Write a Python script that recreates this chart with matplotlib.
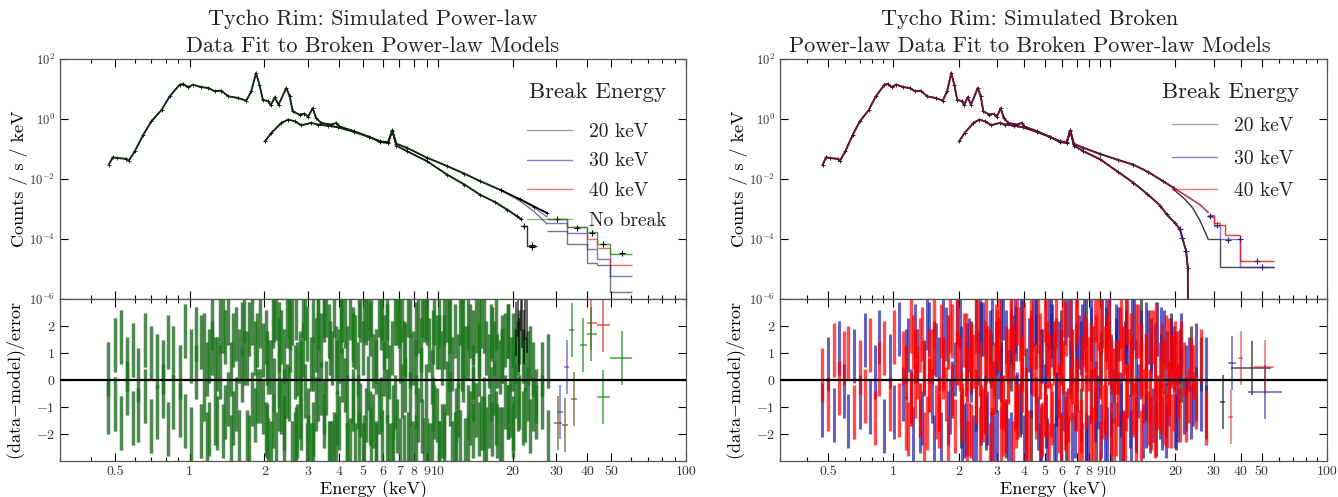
import numpy as np
import matplotlib
matplotlib.use("Agg")
import matplotlib.pyplot as plt
from matplotlib.lines import Line2D
from matplotlib.ticker import FixedLocator, FixedFormatter, NullFormatter, NullLocator

plt.rcParams["font.family"] = "cmr10"
plt.rcParams["mathtext.fontset"] = "cm"
plt.rcParams["axes.formatter.use_mathtext"] = True

# ---------------- spectra (keV, counts/s/keV) ----------------
# soft detector, identical in both panels below ~7.5 keV
soft_E = [0.472, 0.49, 0.51, 0.556, 0.568, 0.60, 0.65, 0.70, 0.77, 0.83, 0.91, 0.94,
          0.985, 1.03, 1.11, 1.19, 1.26, 1.34, 1.43, 1.57, 1.69, 1.77, 1.85, 1.91,
          1.97, 2.07, 2.12, 2.20, 2.28, 2.45, 2.53, 2.60, 2.77, 2.90, 3.00, 3.13,
          3.23, 3.39, 3.71, 3.90, 4.00, 4.60, 5.30, 5.87, 6.30, 6.55, 6.80, 7.50]
soft_rate = [0.030, 0.053, 0.050, 0.047, 0.041, 0.083, 0.30, 0.83, 2.0, 5.7, 13.9, 14.7,
             11.4, 14.0, 11.6, 10.8, 8.4, 8.8, 5.7, 5.0, 4.1, 8.4, 34.0, 14.0,
             4.4, 3.9, 2.85, 5.3, 3.0, 10.8, 5.7, 1.8, 1.4, 1.5, 1.2, 2.3,
             1.07, 0.74, 0.65, 0.74, 0.57, 0.39, 0.25, 0.17, 0.16, 0.40, 0.13, 0.085]
# hard detector, identical in both panels below ~7.5 keV
hard_E = [2.01, 2.13, 2.34, 2.49, 2.65, 2.82, 3.09, 3.28, 3.60, 3.95, 4.60, 5.30,
          5.87, 6.30, 6.55, 6.80, 7.50]
hard_rate = [0.18, 0.34, 0.74, 0.95, 0.84, 0.62, 0.74, 0.65, 0.60, 0.53, 0.37, 0.25,
             0.18, 0.17, 0.42, 0.15, 0.11]

# left panel (power-law data)
soft_tail_E_l = [9.0, 10.9, 12.8, 14.8, 17.0, 19.0, 20.8, 21.7]
soft_tail_l = [0.040, 0.014, 0.0065, 0.0030, 0.0017, 9.6e-4, 5.8e-4, 4.5e-4]
soft_step_edges_l = [21.7, 22.8, 25.0]
soft_step_l = [2.7e-4, 5.7e-5]
hard_tail_E_l = [9.0, 10.9, 12.8, 14.8, 18.0]
hard_tail_l = [0.052, 0.027, 0.015, 0.0085, 0.0042]
model_E_l = [18.0, 21.5, 24.5, 27.5]
model_nb_l = [4.2e-3, 2.1e-3, 1.2e-3, 7.4e-4]
model_40_l = [4.2e-3, 2.1e-3, 1.2e-3, 7.4e-4]
model_30_l = [4.2e-3, 2.0e-3, 1.1e-3, 5.5e-4]
model_20_l = [4.2e-3, 1.8e-3, 8.0e-4, 3.2e-4]
step_edges_l = [27.5, 33.0, 39.8, 43.7, 49.5, 60.4]
step_nb_l = [4.5e-4, 2.5e-4, 1.66e-4, 6.6e-5, 3.2e-5]
step_40_l = [4.5e-4, 2.5e-4, 1.0e-4, 5.0e-5, 1.35e-5]
step_30_l = [3.5e-4, 1.6e-4, 4.5e-5, 2.1e-5, 5.8e-6]
step_20_l = [1.8e-4, 7.0e-5, 1.6e-5, 1.4e-5, 1.7e-6]
data_hi_E_l = [22.2, 23.9, 23.9, 30.2, 36.4, 41.7, 46.4, 55.0]
data_hi_l = [2.7e-4, 5.5e-5, 6.3e-5, 4.5e-4, 2.4e-4, 1.6e-4, 6.6e-5, 3.3e-5]

# right panel (broken power-law data)
soft_tail_E_r = [9.0, 10.9, 12.8, 14.8, 17.0, 18.2, 20.0, 21.0, 21.5, 22.4, 22.8, 22.9]
soft_tail_r = [0.045, 0.017, 0.0075, 0.0032, 0.0013, 6.6e-4, 3.3e-4, 2.1e-4, 1.1e-4,
               4.0e-5, 1.1e-5, 1e-9]
hard_tail_E_r = [9.0, 10.9, 12.8, 15.0, 17.5, 19.6]
hard_tail_r = [0.068, 0.043, 0.030, 0.017, 0.0085, 0.0051]
model_E_r = [19.6, 22.0, 24.0, 26.0, 28.3]
model_40_r = [5.1e-3, 3.0e-3, 2.0e-3, 1.4e-3, 8.0e-4]
model_30_r = [5.1e-3, 3.0e-3, 2.0e-3, 1.35e-3, 7.5e-4]
model_20_r = [4.5e-3, 2.2e-3, 1.1e-3, 4.0e-4, 1.0e-4]
step_edges_r = [28.3, 30.0, 32.1, 33.9, 39.7, 57.0]
step_40_r = [6.3e-4, 3.5e-4, 3.0e-4, 1.4e-4, 1.8e-5]
step_30_r = [5.6e-4, 2.8e-4, 1.0e-4, 1.0e-4, 1.2e-5]
step_20_r = [1.0e-4, 1.0e-4, 1.2e-5, 1.2e-5, 1.2e-5]
data_hi_E_r = [21.0, 21.5, 22.4, 29.0, 31.0, 35.0, 39.5, 47.5, 50.0]
data_hi_r = [2.1e-4, 1.1e-4, 4.0e-5, 6.0e-4, 3.0e-4, 9.3e-5, 1.0e-4, 1.9e-5, 1.2e-5]

# ---------------- residuals, (data-model)/error ----------------
res_E_A = [0.47, 0.50, 0.53, 0.56, 0.59, 0.62, 0.66, 0.70, 0.74, 0.78,
           0.82, 0.86, 0.91, 0.96, 1.01, 1.06, 1.11, 1.17, 1.23, 1.29,
           1.36, 1.43, 1.50, 1.58, 1.66, 1.74, 1.83, 1.92, 2.02, 2.12,
           2.23, 2.34, 2.46, 2.58, 2.71, 2.85, 2.99, 3.14, 3.30, 3.47,
           3.64, 3.82, 4.01, 4.21, 4.42, 4.64, 4.87, 5.11, 5.37, 5.64,
           5.92, 6.22, 6.53, 6.86, 7.20, 7.56, 7.94, 8.34, 8.76, 9.20,
           9.66, 10.1, 10.6, 11.1, 11.7, 12.3, 12.9, 13.5, 14.2, 14.9,
           15.7, 16.5, 17.3, 18.2, 19.1, 20.0, 21.0, 22.0, 23.1, 24.2]
res_E_B = [2.05, 2.16, 2.28, 2.40, 2.53, 2.67, 2.82, 2.97, 3.13, 3.30,
           3.48, 3.67, 3.87, 4.08, 4.31, 4.54, 4.79, 5.05, 5.33, 5.62,
           5.93, 6.25, 6.59, 6.95, 7.33, 7.73, 8.15, 8.60, 9.07, 9.57,
           10.1, 10.6, 11.2, 11.8, 12.5, 13.2, 13.9, 14.6, 15.4, 16.3,
           17.2, 18.1, 19.1, 20.1, 21.2, 22.4, 23.6, 24.9, 26.3, 27.8]
res_E_C = [1.14, 1.20, 1.26, 1.32, 1.39, 1.46, 1.54, 1.62, 1.70, 1.78,
           1.87, 1.97, 2.07, 2.18, 2.29, 2.40, 2.52, 2.65, 2.78, 2.92,
           3.07, 3.22, 3.38, 3.55, 3.73, 3.92, 4.11, 4.32, 4.53, 4.76,
           4.99, 5.24, 5.50, 5.78, 6.07, 6.37, 6.70, 7.03, 7.38, 7.75,
           8.14, 8.55, 8.98, 9.43, 9.90, 10.4, 10.9, 11.4, 12.0, 12.6,
           13.2, 13.9, 14.6, 15.3, 16.1, 16.9, 17.8, 18.7, 19.6, 20.5]

res_l_A = [-1.0, 1.3, -1.6, 0.6, -1.4, 0.2, -0.6, 1.0, -1.2, 0.5,
           1.4, -0.8, 0.3, -1.5, 0.9, 1.7, -1.9, 0.4, 1.2, -1.6,
           2.0, -0.7, 1.5, -2.1, 0.8, 1.9, -1.3, 2.2, -1.8, 0.5,
           -2.2, 1.6, -0.4, 2.3, -1.9, 1.1, -2.3, 0.6, 2.1, -1.5,
           1.8, -2.2, 0.9, 2.2, -2.4, 1.4, -1.1, 2.3, -2.0, 0.5,
           2.1, -2.3, 1.2, -1.7, 2.4, -2.2, 0.8, 2.0, -2.4, 1.3,
           -1.2, 2.2, -1.9, 0.6, 1.8, -2.1, 1.0, -1.4, 2.0, -1.6,
           1.2, -1.8, 0.7, 1.4, -1.2, 0.6, -0.9, 0.9, -0.5, 0.4]
res_l_A2 = [0.4, -0.9, 1.6, -0.3, 1.1, -1.3, 1.5, -1.7, 0.7, -0.4,
            -1.8, 1.0, -1.1, 1.8, -2.0, 0.3, 1.4, -2.2, 2.1, 0.6,
            -1.9, 2.3, -1.4, 0.9, 2.4, -2.3, 1.2, -0.6, 1.6, -2.5,
            2.5, -1.0, 2.2, -2.5, 0.4, 2.6, -1.3, -2.6, 1.5, 2.4,
            -2.5, 2.6, -1.6, -0.2, 2.5, -2.6, 2.4, -1.3, 2.6, -2.5,
            -0.9, 2.5, -2.6, 2.3, -0.4, 2.6, -2.5, -1.3, 2.4, -2.6,
            2.3, -2.5, 1.4, 2.4, -2.2, 2.3, -2.4, 1.8, -1.1, 2.2,
            -2.0, 1.7, -1.9, 0.9, 1.8, -1.6, 1.2, -1.4, 0.8, -0.9]
res_l_B = [0.8, -1.5, 1.9, -0.6, 2.1, -2.0, 0.4, 1.7, -1.8, 2.3,
           -1.0, 1.2, -2.3, 2.0, -0.8, 1.5, -2.2, 2.4, -1.4, 0.9,
           -2.1, 1.8, -1.2, 2.2, -2.3, 0.7, 1.9, -1.7, 2.3, -0.9,
           1.4, -2.2, 2.0, -1.3, 0.6, 2.1, -1.9, 1.1, -1.6, 1.8,
           -1.4, 0.9, -1.2, 1.5, -0.8, 0.6, -1.7, -0.6, 0.4, -2.1]
res_l_B2 = [-1.9, 2.2, -0.9, -2.4, 1.3, 2.5, -1.6, -2.6, 2.4, -0.5,
            2.6, -2.5, 1.0, 2.5, -2.6, -0.9, 2.6, -2.3, 1.9, -2.6,
            2.5, -0.6, -2.6, 2.4, 1.2, -2.5, -0.8, 2.6, -2.4, 1.6,
            -2.5, 2.3, -0.7, -2.4, 2.4, -1.2, 0.3, 2.3, -2.2, -0.5,
            2.1, -2.0, 1.8, -1.9, 1.6, -1.3, 1.0, -1.2, -0.8, 0.7]
res_l_C = [1.5, -1.8, 0.6, 2.0, -1.2, -2.3, 1.7, 0.2, -2.1, 2.3,
           -0.6, 1.1, -2.4, 2.4, 0.0, -1.6, 2.6, -2.2, 0.8, 2.5,
           -2.6, 1.3, -0.3, 2.6, -2.5, 0.5, 2.4, -2.6, 1.7, -0.8,
           -2.6, 2.5, -1.5, 2.6, 0.4, -2.6, 2.3, -2.4, 1.1, 2.6,
           -2.3, 0.2, 2.5, -2.6, 1.4, -1.9, 2.4, -2.5, 0.7, 2.2,
           -2.3, 1.6, -1.8, 2.0, -1.5, 1.2, -2.0, 1.5, -1.1, 0.9]
res_l_C2 = [-0.5, 0.9, -1.4, 0.3, 1.6, 0.4, -0.9, 1.9, 0.8, -0.7,
            1.5, -1.0, 0.5, -0.2, 1.3, 0.9, -0.5, 0.3, -1.2, -0.4,
            0.6, -0.9, 1.5, -0.3, 0.8, -1.4, 0.2, 1.0, -0.6, 0.4,
            1.2, -0.1, 0.7, -1.0, 1.4, 0.3, -0.8, 0.9, -0.2, -0.7,
            0.5, 1.3, -0.4, 0.1, -1.3, 0.8, -0.3, 0.6, -1.1, 0.2,
            1.0, -0.5, 0.4, -0.9, 0.7, -0.3, 0.5, -0.8, 0.6, -0.4]
res_l_20_E = [20.6, 21.0, 21.3, 21.6, 21.9, 22.2, 22.5, 22.8]
res_l_20 = [1.9, 2.6, 1.3, 2.8, 2.2, 1.6, 2.5, 2.0]

res_r_A_blue = [-1.1, 0.6, -1.3, 1.2, -0.4, -1.5, 0.9, -0.8, 1.5, -1.0,
                0.3, 1.6, -1.7, 0.7, -1.2, 1.9, -0.5, 1.3, -2.0, 0.9,
                -1.4, 2.1, -0.6, 1.1, -2.2, 1.7, -1.0, 0.4, 2.2, -1.9,
                1.3, -2.3, 0.8, 1.9, -1.4, 2.3, -2.1, 0.2, 1.6, -2.2,
                2.0, -1.1, -2.3, 1.3, 2.2, -1.6, 0.9, -2.4, 1.8, -0.7,
                -2.2, 2.3, 0.5, -1.9, 1.4, 2.1, -2.3, 1.0, -0.8, 2.2,
                -2.0, 0.7, 1.8, -2.2, 1.2, -1.5, 2.1, -0.4, -1.9, 1.6,
                -1.3, 1.9, -1.6, 0.8, 1.3, -1.5, 0.9, -1.0, 0.6, -0.7]
res_r_A_red = [0.2, -0.9, 1.1, -0.3, 0.8, 1.0, -1.2, 0.5, -0.6, 1.3,
               -1.4, 0.4, 1.2, -0.9, 1.6, -1.1, 0.8, -1.8, 1.4, 0.3,
               1.7, -1.6, 0.9, -1.2, 1.8, -0.5, 2.0, -1.7, 0.6, 1.5,
               -1.8, 0.7, 2.0, -1.3, 1.0, -2.0, 1.6, -0.8, -1.7, 2.1,
               -0.9, 1.7, 1.9, -2.1, 0.4, 2.0, -1.8, 1.2, -1.4, 2.2,
               0.8, -1.6, 2.2, -0.9, -2.1, 1.5, 0.6, -2.0, 2.1, -1.2,
               1.4, -1.8, 0.5, 1.7, -2.2, 0.9, -1.1, 1.8, -0.6, -1.4,
               1.6, -0.8, 1.1, -1.5, 0.7, 1.2, -1.3, 0.4, -0.6, 0.3]
res_r_B_red = [-0.7, 1.5, -1.9, 0.8, -1.2, 2.1, -0.3, 1.8, -2.0, 1.0,
               2.2, -1.5, 0.6, -2.2, 1.6, 0.2, -1.9, 2.3, -1.1, 1.3,
               -2.3, 1.9, -0.5, 2.1, -1.7, 0.9, -2.1, 1.4, 2.0, -1.2,
               0.5, -1.8, 2.2, -0.9, 1.5, -2.0, 1.1, 0.3, -1.6, 1.9,
               -1.0, 1.4, -1.5, 0.8, 1.2, -1.3, 0.6, -0.8, 0.9, -1.4]
res_r_B_blue = [1.0, -1.8, 0.5, 2.0, -1.4, 0.9, -2.2, 1.2, 0.4, -1.7,
                1.6, -0.8, 2.2, -1.3, -0.4, 2.3, -2.0, 0.7, 1.5, -2.3,
                0.9, -1.4, 2.0, -0.9, 1.2, -2.2, 1.7, -0.3, -1.9, 2.2,
                -1.1, 1.3, -0.7, 2.1, -2.1, 0.5, 1.6, -1.5, 1.0, -0.9,
                1.7, -1.9, 0.8, -0.6, 1.5, 0.3, -1.2, 1.1, -0.9, 0.6]
res_r_B_black = [-1.5, 0.4, 1.2, -0.9, 1.9, -1.6, 0.7, -0.2, 2.0, -1.9,
                 0.6, 1.7, -1.0, 0.2, -2.1, 1.4, 0.9, -1.5, 2.2, -0.7,
                 1.6, -2.0, 0.3, 1.1, -1.3, 2.3, -0.6, -2.0, 0.8, 1.7,
                 -2.2, 0.9, -1.1, 1.6, 0.4, -1.7, 2.0, -0.5, 1.3, -1.8,
                 0.7, -1.1, 1.5, -1.6, 0.2, -0.9, 1.0, -0.5, 0.6, -1.2]
res_r_C_red = [-1.6, 2.0, -0.4, 1.3, -2.2, 0.9, 2.2, -1.5, 0.3, -2.4,
               1.8, 2.4, -1.1, -2.5, 0.6, 2.5, -2.0, 1.2, -2.6, 0.4,
               2.6, -1.8, 0.9, -2.5, 2.3, -0.2, -2.6, 2.6, -1.2, 1.5,
               2.4, -2.6, 0.8, -1.7, 2.6, -2.4, 0.1, 2.5, -2.6, 1.3,
               -0.6, 2.4, -2.5, 1.0, 2.1, -2.4, 0.5, -2.2, 2.3, -1.0,
               1.8, -2.1, 0.7, 1.6, -1.9, 0.4, -1.4, 1.3, -0.9, 0.8]
res_r_C2_red = [0.3, -0.7, 0.9, -1.1, 0.5, -0.2, 1.2, -0.9, 0.6, 1.4,
                -0.4, 0.8, -1.3, 0.2, 1.1, -0.6, 0.4, -1.0, 0.9, -0.3,
                1.3, -0.8, 0.1, 1.0, -1.2, 0.6, -0.5, 1.4, -0.9, 0.3,
                -1.1, 0.7, 1.2, -0.4, 0.5, -1.3, 0.9, -0.2, 0.6, -0.8,
                1.1, -0.5, 0.3, -1.0, 0.8, 0.2, -0.7, 1.0, -0.4, 0.6,
                -0.9, 0.4, 0.7, -0.6, 0.2, -0.8, 0.5, -0.3, 0.6, -0.4]
res_r_C_blue = [0.9, -0.6, 1.8, -1.7, 0.4, 1.9, -2.3, 0.6, 2.2, -1.4,
                -0.3, 2.3, -2.4, 1.1, 0.2, -2.5, 2.4, -0.8, 1.6, -2.3,
                0.3, 2.5, -2.4, 1.4, -0.7, 2.6, -1.9, 0.5, 2.4, -2.6,
                -0.4, 2.1, -2.6, 1.2, -0.9, 2.6, -2.2, 0.6, 1.8, -2.5,
                2.3, -1.3, 0.4, -2.4, 2.5, -0.6, 1.7, -2.1, 0.9, 2.0,
                -1.6, 0.3, 1.9, -1.7, 1.1, -1.2, 1.6, -0.7, 1.0, -1.3]

# high-energy residual points (energy, residual, bin low, bin high)
hi_l_black = ([30.5, 32.5, 35.5], [-1.6, -1.65, -0.72], [29.5, 31.5, 34.5], [31.5, 33.5, 36.5])
hi_l_blue = ([31.0, 33.0], [-1.2, 0.5], [30.2, 32.3], [31.8, 33.8])
hi_l_red = ([41.6, 46.2], [2.1, 2.05], [39.8, 43.7], [43.7, 49.5])
hi_l_green = ([34.6, 38.6, 41.6, 46.2, 55.0], [1.85, 1.3, 1.72, -0.62, 0.8],
              [33.8, 37.5, 39.8, 43.7, 49.5], [35.4, 39.8, 43.7, 49.5, 60.4])
hi_r_black = ([33.0, 45.0], [-0.82, 0.46], [32.1, 36.0], [33.9, 55.0])
hi_r_blue = ([36.5, 51.8], [0.64, -0.44], [35.0, 43.0], [38.0, 62.0])
hi_r_red = ([36.0, 40.0, 51.5], [-1.37, 0.8, 0.5], [35.0, 39.0, 46.0], [37.0, 41.0, 57.0])

x_ticks = [0.5, 1, 2, 3, 4, 5, 6, 7, 8, 9, 10, 20, 30, 40, 50, 100]
x_tick_labels = ["0.5", "1", "2", "3", "4", "5", "6", "7", "8", "9", "10",
                 "20", "30", "40", "50", "100"]
x_minor = [0.3, 0.4, 0.6, 0.7, 0.8, 0.9, 60, 70, 80, 90]

# ---------------- figure ----------------
fig = plt.figure(figsize=(13.38, 4.97), dpi=100)
W, H = 1338.0, 497.0


def box(x0, x1, y0, y1):
    return [x0 / W, 1 - y1 / H, (x1 - x0) / W, (y1 - y0) / H]


ax_lt = fig.add_axes(box(60, 686, 59, 299))
ax_lb = fig.add_axes(box(60, 686, 299, 461))
ax_rt = fig.add_axes(box(780, 1327, 59, 299))
ax_rb = fig.add_axes(box(780, 1327, 299, 461))


def setup(ax, top):
    ax.set_xscale("log")
    ax.set_xlim(0.3, 100)
    ax.xaxis.set_major_locator(FixedLocator(x_ticks))
    ax.xaxis.set_major_formatter(FixedFormatter(x_tick_labels))
    ax.xaxis.set_minor_locator(FixedLocator(x_minor))
    ax.xaxis.set_minor_formatter(NullFormatter())
    ax.tick_params(which="both", direction="in", top=True, right=True,
                   labelsize=10, labelcolor="#333333", width=0.8)
    ax.tick_params(which="major", length=6)
    ax.tick_params(which="minor", length=3)
    for s in ax.spines.values():
        s.set_color("#555555")
        s.set_linewidth(0.9)
    if top:
        ax.set_yscale("log")
        ax.set_ylim(1e-6, 1e2)
        ax.yaxis.set_major_locator(FixedLocator([1e-6, 1e-4, 1e-2, 1, 1e2]))
        ax.yaxis.set_minor_locator(NullLocator())
        ax.tick_params(axis="y", labelsize=9)
        ax.tick_params(labelbottom=False)
    else:
        ax.set_ylim(-3, 3)
        ax.set_yticks([-2, -1, 0, 1, 2])
        ax.axhline(0, color="k", lw=1.6, zorder=6)
        ax.set_xlabel("Energy (keV)", fontsize=13, labelpad=2)


for a, t in [(ax_lt, True), (ax_lb, False), (ax_rt, True), (ax_rb, False)]:
    setup(a, t)


def stairs(ax, edges, vals, color, alpha, lw=1.0):
    ax.stairs(vals, edges, color=color, alpha=alpha, lw=lw, baseline=None)


def res(ax, E, r, color, alpha, lw):
    ax.errorbar(E, r, yerr=1.0, fmt="none", ecolor=color, elinewidth=lw, alpha=alpha)


def res_hi(ax, pts, color, alpha):
    E, r, lo, hi = (np.array(p) for p in pts)
    ax.errorbar(E, r, xerr=[E - lo, hi - E], yerr=1.0, fmt="none", ecolor=color,
                elinewidth=1.1, alpha=alpha)


grey, blue, red, green = "#555555", "#2020b0", "#e01010", "#1a8a1a"

# ---------------- left top ----------------
sE_l = soft_E + soft_tail_E_l
sV_l = soft_rate + soft_tail_l
hE_l = hard_E + hard_tail_E_l
hV_l = hard_rate + hard_tail_l
for E, V in [(sE_l, sV_l), (hE_l, hV_l)]:
    ax_lt.plot(E, V, color="k", lw=1.3, marker="+", ms=3, mew=0.6)
    ax_lt.plot(E, V, color=green, lw=0.9, alpha=0.35)
stairs(ax_lt, soft_step_edges_l, soft_step_l, "k", 0.8)
ax_lt.plot(model_E_l, model_20_l, color=grey, lw=1.0, alpha=0.8)
ax_lt.plot(model_E_l, model_30_l, color=blue, lw=1.0, alpha=0.6)
ax_lt.plot(model_E_l, model_40_l, color=red, lw=1.0, alpha=0.5)
ax_lt.plot(model_E_l, model_nb_l, color="k", lw=1.2, marker="+", ms=3, mew=0.6)
stairs(ax_lt, step_edges_l, step_20_l, grey, 0.8)
stairs(ax_lt, step_edges_l, step_30_l, blue, 0.6)
stairs(ax_lt, step_edges_l, step_40_l, red, 0.6)
stairs(ax_lt, step_edges_l, step_nb_l, green, 0.8)
ax_lt.plot(data_hi_E_l, data_hi_l, "+", color="k", ms=5, mew=0.8)

# ---------------- right top ----------------
sE_r = soft_E + soft_tail_E_r
sV_r = soft_rate + soft_tail_r
hE_r = hard_E + hard_tail_E_r
hV_r = hard_rate + hard_tail_r
for E, V in [(sE_r, sV_r), (hE_r, hV_r)]:
    ax_rt.plot(E, V, color="k", lw=1.3, marker="+", ms=3, mew=0.6)
    ax_rt.plot(E, V, color=blue, lw=1.1, alpha=0.5)
    ax_rt.plot(E, V, color=red, lw=1.1, alpha=0.5)
ax_rt.plot(model_E_r, model_20_r, color="k", lw=1.0, alpha=0.8)
ax_rt.plot(model_E_r, model_30_r, color=blue, lw=1.0, alpha=0.6)
ax_rt.plot(model_E_r, model_40_r, color=red, lw=1.0, alpha=0.7)
stairs(ax_rt, step_edges_r, step_20_r, "k", 0.7)
stairs(ax_rt, step_edges_r, step_30_r, blue, 0.6)
stairs(ax_rt, step_edges_r, step_40_r, red, 0.8)
ax_rt.plot(data_hi_E_r, data_hi_r, "+", color="#3a1a6a", ms=5, mew=0.8)

# ---------------- left residuals ----------------
left_sets = [(res_E_A, res_l_A2), (res_E_B, res_l_B2), (res_E_C, res_l_C),
             (res_E_A, res_l_A), (res_E_B, res_l_B), (res_E_C, res_l_C2)]
for E, r in left_sets:
    res(ax_lb, E, r, "k", 0.45, 2.4)
for E, r in left_sets:
    res(ax_lb, E, r, green, 0.55, 2.4)
res(ax_lb, res_l_20_E, res_l_20, "k", 0.7, 1.2)
res_hi(ax_lb, hi_l_black, "#6a5a20", 0.8)
res_hi(ax_lb, hi_l_blue, blue, 0.6)
res_hi(ax_lb, hi_l_red, red, 0.7)
res_hi(ax_lb, hi_l_green, green, 0.8)

# ---------------- right residuals ----------------
res(ax_rb, res_E_B, res_r_B_black, "k", 0.6, 2.2)
res(ax_rb, res_E_A, res_r_A_blue, blue, 0.7, 2.2)
res(ax_rb, res_E_B, res_r_B_blue, blue, 0.7, 2.2)
res(ax_rb, res_E_C, res_r_C_blue, blue, 0.7, 2.2)
res(ax_rb, res_E_A, res_r_A_red, "#ff0000", 0.7, 2.4)
res(ax_rb, res_E_B, res_r_B_red, "#ff0000", 0.7, 2.4)
res(ax_rb, res_E_C, res_r_C_red, "#ff0000", 0.7, 2.4)
res(ax_rb, res_E_C, res_r_C2_red, "#ff0000", 0.85, 2.4)
res_hi(ax_rb, hi_r_black, "k", 0.7)
res_hi(ax_rb, hi_r_blue, blue, 0.7)
res_hi(ax_rb, hi_r_red, red, 0.6)

# ---------------- labels, titles, legends ----------------
for ax in (ax_lt, ax_rt):
    ax.set_ylabel("Counts / s / keV", fontsize=13)
for ax in (ax_lb, ax_rb):
    ax.set_ylabel("(data$-$model)/error", fontsize=13)
ax_lt.yaxis.set_label_coords(-0.051, 0.5)
ax_lb.yaxis.set_label_coords(-0.051, 0.5)
ax_rt.yaxis.set_label_coords(-0.058, 0.5)
ax_rb.yaxis.set_label_coords(-0.058, 0.5)

fig.text(373 / W, 1 - 32.5 / H, "Tycho Rim: Simulated Power-law\nData Fit to Broken Power-law Models",
         ha="center", va="center", fontsize=16, linespacing=1.45, color="#222222")
fig.text(1030 / W, 1 - 32.5 / H, "Tycho Rim: Simulated Broken\nPower-law Data Fit to Broken Power-law Models",
         ha="center", va="center", fontsize=16, linespacing=1.45, color="#222222")


def legend(ax, labels, colors, title_xy, anchor, spacing):
    ax.text(title_xy[0], title_xy[1], "Break Energy", transform=ax.transAxes,
            ha="center", va="center", fontsize=16.5, color="#222222")
    handles = [Line2D([], [], color=c, lw=1.0, alpha=0.55) for c in colors]
    leg = ax.legend(handles, labels, frameon=False, fontsize=14,
                    loc="upper left", bbox_to_anchor=anchor,
                    borderaxespad=0, borderpad=0, handlelength=2.3,
                    handletextpad=0.9, labelspacing=spacing)
    for t in leg.get_texts():
        t.set_color("#222222")


legend(ax_lt, ["20 keV", "30 keV", "40 keV", "No break"], ["#555555", blue, red, green],
       (0.859, 0.8625), (0.746, 0.734), 0.6)
legend(ax_rt, ["20 keV", "30 keV", "40 keV"], ["#555555", blue, red],
       (0.823, 0.8625), (0.717, 0.757), 0.75)

fig.savefig("out.png", dpi=100)
